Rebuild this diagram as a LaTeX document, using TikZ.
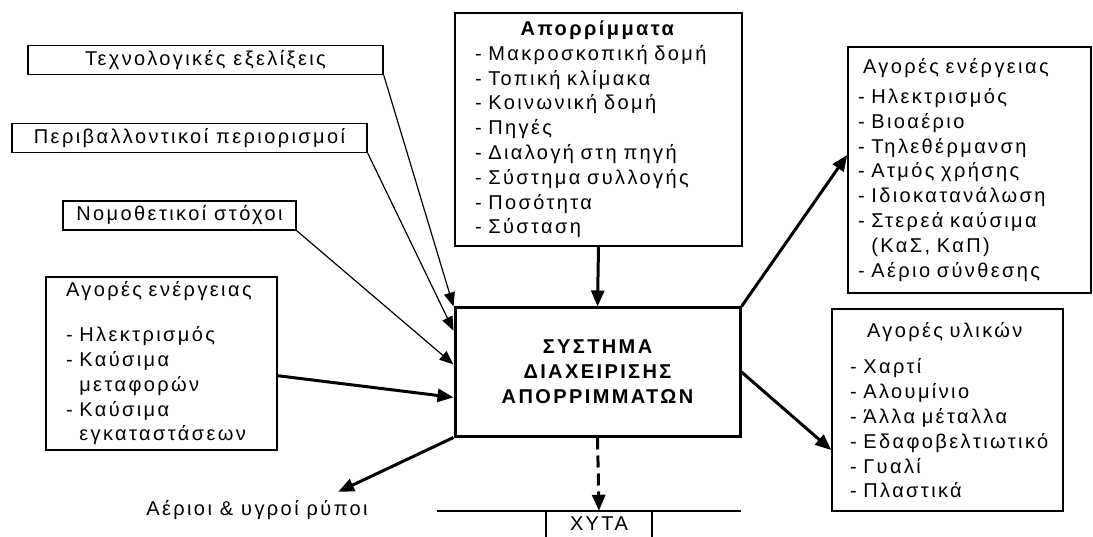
\documentclass[tikz,border=0pt]{standalone}
\usepackage{fontspec}
\setmainfont{Liberation Sans}[LetterSpace=12]
\usetikzlibrary{arrows.meta}

\begin{document}
\begin{tikzpicture}[x=1pt,y=-1pt,
    every node/.style={font=\fontsize{20}{24.8}\selectfont},
    factor/.style={draw, line width=1.5pt, inner sep=0pt, minimum height=29pt},
    market/.style={draw, line width=1.5pt, align=left, inner ysep=0pt},
    thinarrow/.style={line width=1.2pt, -{Triangle[length=14pt,width=11pt]}},
    thickarrow/.style={line width=3pt, -{Triangle[length=16pt,width=13pt]}}]
\useasboundingbox (0,0) rectangle (1093,537);

\node[factor, minimum width=355pt] (tech) at (205.5,60) {Τεχνολογικές εξελίξεις};
\node[factor, minimum width=355pt] (env) at (189.5,138) {Περιβαλλοντικοί περιορισμοί};
\node[factor, minimum width=233pt] (law) at (179.5,215.5) {Νομοθετικοί στόχοι};

\node[market, text width=247pt, inner xsep=20pt, minimum height=233pt] (waste) at (598.5,129.5)
  {\hfill\textbf{Απορρίμματα}\hfill\mbox{}\\
   - Μακροσκοπική δομή\\
   - Τοπική κλίμακα\\
   - Κοινωνική δομή\\
   - Πηγές\\
   - Διαλογή στη πηγή\\
   - Σύστημα συλλογής\\
   - Ποσότητα\\
   - Σύσταση};

\node[market, text width=223pt, inner xsep=10pt, minimum height=246pt] (energyR) at (969.5,170)
  {\hspace{5pt}Αγορές ενέργειας\\[5pt]
   - Ηλεκτρισμός\\
   - Βιοαέριο\\
   - Τηλεθέρμανση\\
   - Ατμός χρήσης\\
   - Ιδιοκατανάλωση\\
   - Στερεά καύσιμα\\
   \phantom{- }(ΚαΣ, ΚαΠ)\\
   - Αέριο σύνθεσης};

\node[market, text width=191pt, inner xsep=20pt, minimum height=173pt] (energyL) at (161.5,363.5)
  {Αγορές ενέργειας\\[20pt]
   - Ηλεκτρισμός\\
   - Καύσιμα\\
   \phantom{- }μεταφορών\\
   - Καύσιμα\\
   \phantom{- }εγκαταστάσεων};

\node[market, text width=195pt, inner xsep=18pt, minimum height=202pt] (materials) at (947.5,410)
  {\hspace{17pt}Αγορές υλικών\\[12pt]
   - Χαρτί\\
   - Αλουμίνιο\\
   - Άλλα μέταλλα\\
   \mbox{- Εδαφοβελτιωτικό}\\
   - Γυαλί\\
   - Πλαστικά};

\node[draw, line width=3pt, inner sep=0pt, minimum width=285pt, minimum height=128pt,
  align=center, font=\fontsize{20}{25}\selectfont\bfseries] (central) at (597.5,372)
  {ΣΥΣΤΗΜΑ\\ ΔΙΑΧΕΙΡΙΣΗΣ\\ ΑΠΟΡΡΙΜΜΑΤΩΝ};

\node (gas) at (257,510) {Αέριοι \& υγροί ρύποι};

\node[inner sep=0pt, minimum width=106pt, minimum height=26pt] (xyta) at (599,524) {ΧΥΤΑ};
\draw[line width=1.5pt] (437,511) -- (741,511);
\draw[line width=1.5pt] (xyta.north west) -- (xyta.south west);
\draw[line width=1.5pt] (xyta.north east) -- (xyta.south east);

\draw[thinarrow] (tech.south east) -- (central.north west);
\draw[thinarrow] (env.south east) -- (central.164.7);
\draw[thinarrow] (law.south east) -- (central.177.2);
\draw[thickarrow] (energyL.354.3) -- (central.190.7);
\draw[thickarrow] (waste.south) -- (central.north);
\draw[thickarrow] (central.north east) -- (energyR.173);
\draw[thickarrow] (central.east) -- (materials.199.1);
\draw[thickarrow] (central.south west) -- ([xshift=-33pt,yshift=5pt]gas.north east);
\draw[thickarrow, dashed, dash pattern=on 12pt off 6pt] (central.south) -- (xyta.north);
\end{tikzpicture}
\end{document}
